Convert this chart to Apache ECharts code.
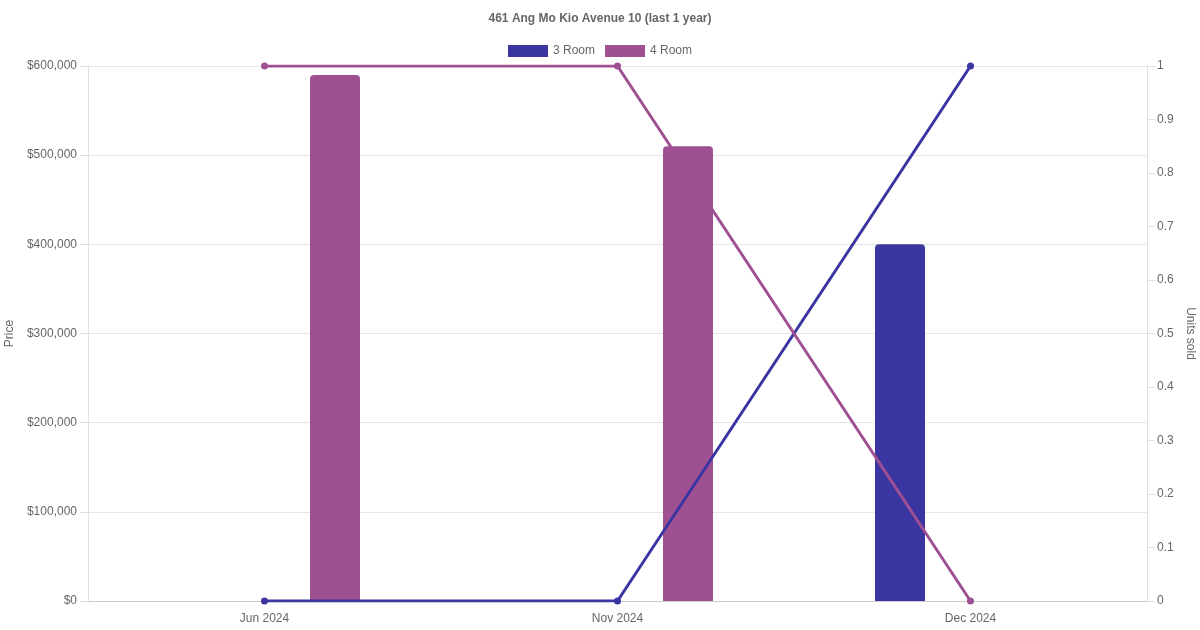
<!DOCTYPE html>
<html lang="en" style="height: 100%">
<head>
  <meta charset="utf-8">
  <title>461 Ang Mo Kio Avenue 10</title>
</head>
<body style="height: 100%; margin: 0">
  <div id="container" style="width: 1200px; height: 630px"></div>

  <script type="text/javascript" src="https://cdn.jsdelivr.net/npm/echarts@6/dist/echarts.min.js"></script>
  <script type="text/javascript">
    // data
    const months = ['Jun 2024', 'Nov 2024', 'Dec 2024'];
    const price3Room = [null, null, 400000];
    const price4Room = [590000, 510000, null];
    const units3Room = [0, 0, 1];
    const units4Room = [1, 1, 0];
    const priceTicks = [0, 600000, 100000];   // min, max, step
    const unitTicks = [0, 1, 0.1];

    const blue = '#3a35a0';
    const purple = '#9f5093';
    const font = 'Liberation Sans, Arial, sans-serif';

    var dom = document.getElementById('container');
    var myChart = echarts.init(dom, null, { renderer: 'canvas' });

    var option = {
      animation: false,
      textStyle: { fontFamily: font },
      title: {
        text: '461 Ang Mo Kio Avenue 10 (last 1 year)',
        left: 'center',
        top: 8,
        textStyle: { fontSize: 12, fontWeight: 'bold', color: '#666', fontFamily: font }
      },
      legend: {
        top: 40,
        left: 'center',
        itemWidth: 40,
        itemHeight: 12,
        itemGap: 10,
        icon: 'rect',
        textStyle: { fontSize: 12, color: '#666' },
        data: ['3 Room', '4 Room']
      },
      grid: { left: 88, right: 53, top: 66, bottom: 29, containLabel: false, outerBoundsMode: 'none' },
      xAxis: {
        type: 'category',
        data: months,
        axisTick: { show: false },
        axisLine: { lineStyle: { color: '#ccc' } },
        axisLabel: { color: '#666', fontSize: 12, margin: 12 },
        splitLine: { show: false }
      },
      yAxis: [
        {
          type: 'value',
          name: 'Price',
          nameLocation: 'middle',
          nameGap: 68,
          nameTextStyle: { color: '#666', fontSize: 12 },
          min: priceTicks[0],
          max: priceTicks[1],
          interval: priceTicks[2],
          axisLine: { show: true, lineStyle: { color: '#e0e0e0' } },
          axisTick: { show: true, length: 8, lineStyle: { color: '#e0e0e0' } },
          axisLabel: {
            color: '#666', fontSize: 12, margin: 11, padding: [2, 0, 0, 0],
            formatter: function (v) { return '$' + v.toLocaleString('en-US'); }
          },
          splitLine: { lineStyle: { color: '#e6e6e6' } }
        },
        {
          type: 'value',
          name: 'Units sold',
          nameLocation: 'middle',
          nameRotate: -90,
          nameGap: 32,
          nameTextStyle: { color: '#666', fontSize: 12 },
          position: 'right',
          min: unitTicks[0],
          max: unitTicks[1],
          interval: unitTicks[2],
          axisLine: { show: true, lineStyle: { color: '#e0e0e0' } },
          axisTick: { show: true, length: 8, lineStyle: { color: '#e0e0e0' } },
          axisLabel: {
            color: '#666', fontSize: 12, margin: 10, padding: [2, 0, 0, 0],
            formatter: function (v) { return String(Math.round(v * 10) / 10); }
          },
          splitLine: { show: false }
        }
      ],
      series: [
        {
          name: '3 Room',
          type: 'bar',
          data: price3Room,
          barWidth: 50,
          barGap: '182%',
          itemStyle: { color: blue, borderRadius: [4, 4, 0, 0] },
          z: 2
        },
        {
          name: '4 Room',
          type: 'bar',
          data: price4Room,
          barWidth: 50,
          barGap: '182%',
          itemStyle: { color: purple, borderRadius: [4, 4, 0, 0] },
          z: 2
        },
        {
          name: '3 Room',
          type: 'line',
          yAxisIndex: 1,
          data: units3Room,
          symbol: 'circle',
          symbolSize: 7,
          lineStyle: { color: blue, width: 3 },
          itemStyle: { color: blue },
          z: 3
        },
        {
          name: '4 Room',
          type: 'line',
          yAxisIndex: 1,
          data: units4Room,
          symbol: 'circle',
          symbolSize: 7,
          lineStyle: { color: purple, width: 3 },
          itemStyle: { color: purple },
          z: 3
        }
      ]
    };

    myChart.setOption(option);
    window.addEventListener('resize', myChart.resize);
  </script>
</body>
</html>
